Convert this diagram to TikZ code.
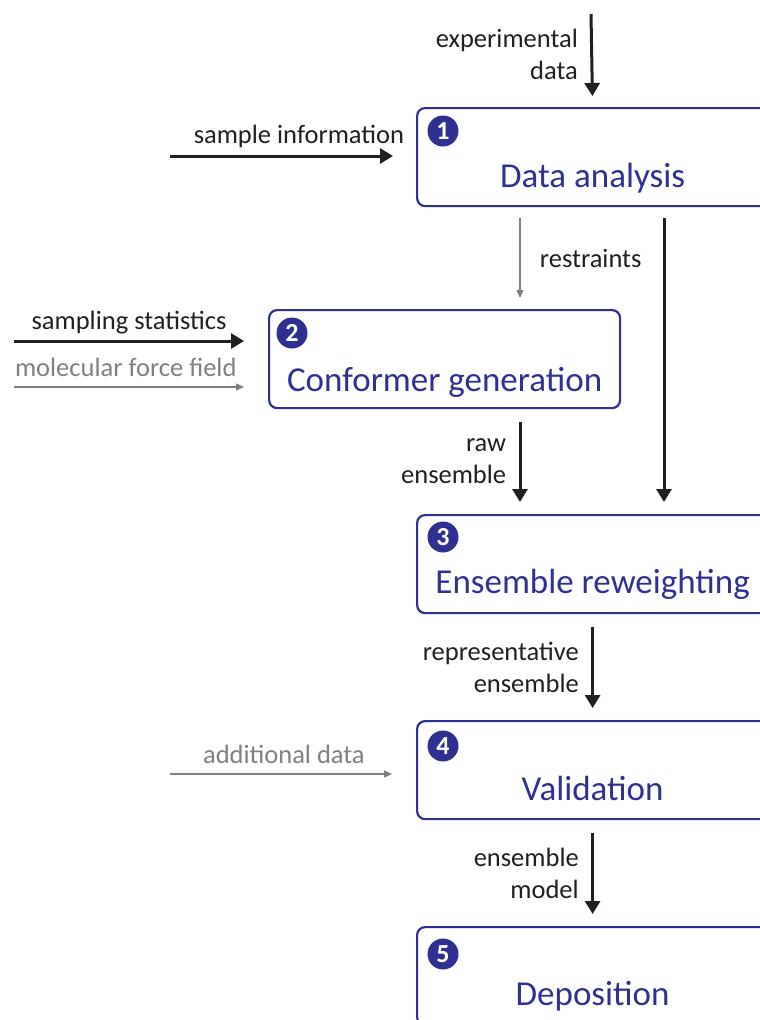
\documentclass[tikz,border=0pt]{standalone}
\usepackage{fontspec}
\setmainfont{Carlito}
\usetikzlibrary{arrows.meta}

\definecolor{stepblue}{RGB}{46,49,146}
\definecolor{inkblack}{RGB}{35,31,32}
\definecolor{softgray}{RGB}{128,128,128}

\begin{document}
\begin{tikzpicture}[x=1pt, y=-1pt,
	stage/.style={draw=stepblue, line width=2.2pt, rounded corners=8pt, minimum width=351pt, minimum height=98pt, anchor=north west, inner sep=0pt},
	title/.style={text=stepblue, font=\fontsize{35}{42}\selectfont, anchor=base, inner sep=0pt},
	badge/.style={circle, fill=stepblue, text=white, minimum size=31pt, inner sep=0pt, font=\fontsize{26}{26}\selectfont\bfseries},
	lbl/.style={text=inkblack, font=\fontsize{26.5}{32}\selectfont, align=right},
	main/.style={draw=inkblack, line width=3pt, -{Triangle[length=13pt,width=15pt]}},
	side/.style={draw=softgray, line width=1.3pt, -{Triangle[length=8pt,width=7pt]}},
]

	\useasboundingbox (0,0) rectangle (760,1020);
	\clip (0,0) rectangle (760,1020);

	% the five stages
	\node[stage] (b1) at (416,107) {};
	\node[stage] (b2) at (268,309) {};
	\node[stage] (b3) at (416,514) {};
	\node[stage] (b4) at (416,720) {};
	\node[stage] (b5) at (416,926) {};

	\node[badge] (n1) at ([xshift=27pt,yshift=-24pt]b1.north west) {1};
	\node[badge] (n2) at ([xshift=24pt,yshift=-24pt]b2.north west) {2};
	\node[badge] (n3) at ([xshift=27pt,yshift=-23pt]b3.north west) {3};
	\node[badge] (n4) at ([xshift=27pt,yshift=-26pt]b4.north west) {4};
	\node[badge] (n5) at ([xshift=27pt,yshift=-28pt]b5.north west) {5};

	\node[title] (t1) at ([yshift=-80pt]b1.north) {Data analysis};
	\node[title] (t2) at ([yshift=-82pt]b2.north) {Conformer generation};
	\node[title] (t3) at ([yshift=-79pt]b3.north) {Ensemble reweighting};
	\node[title] (t4) at ([yshift=-80pt]b4.north) {Validation};
	\node[title] (t5) at ([yshift=-79pt]b5.north) {Deposition};

	% inputs
	\coordinate (expin) at (591,14);
	\coordinate (samplein) at (170,156);
	\coordinate (statin) at (14,341);
	\coordinate (fieldin) at (14,387);
	\coordinate (addin) at (170,774);

	\draw[main, shorten >=11pt] (expin) -- (b1.north)
		node[lbl, pos=0.43, left, xshift=-9pt] {experimental\\data};
	\draw[main, shorten >=23pt] (samplein) -- (samplein -| b1.west)
		node[lbl, pos=0.524, above, yshift=3pt] {sample information};
	\draw[main, shorten >=24pt] (statin) -- (statin -| b2.west)
		node[lbl, pos=0.453, above, yshift=2pt] {sampling statistics};
	\draw[side, shorten >=24pt] (fieldin) -- (fieldin -| b2.west)
		node[lbl, text=softgray, pos=0.44, above, yshift=6pt] {molecular force field};
	\draw[side, shorten >=24pt] (addin) -- (addin -| b4.west)
		node[lbl, text=softgray, pos=0.463, above, yshift=6pt] {additional data};

	% flow between stages
	\draw[side, shorten <=11pt, shorten >=11pt] ([xshift=104pt]b1.south west) -- ([xshift=252pt]b2.north west)
		node[lbl, midway, right, xshift=16pt] {restraints};
	\draw[main, shorten <=11pt, shorten >=12pt] ([xshift=248pt]b1.south west) -- ([xshift=248pt]b3.north west);
	\draw[main, shorten <=13pt, shorten >=12pt] ([xshift=252pt]b2.south west) -- ([xshift=104pt]b3.north west)
		node[lbl, midway, left, xshift=-9pt] {raw\\ensemble};
	\draw[main, shorten <=13pt, shorten >=12pt] (b3.south) -- (b4.north)
		node[lbl, midway, left, xshift=-9pt] {representative\\ensemble};
	\draw[main, shorten <=13pt, shorten >=12pt] (b4.south) -- (b5.north)
		node[lbl, midway, left, xshift=-9pt] {ensemble\\model};

\end{tikzpicture}
\end{document}
